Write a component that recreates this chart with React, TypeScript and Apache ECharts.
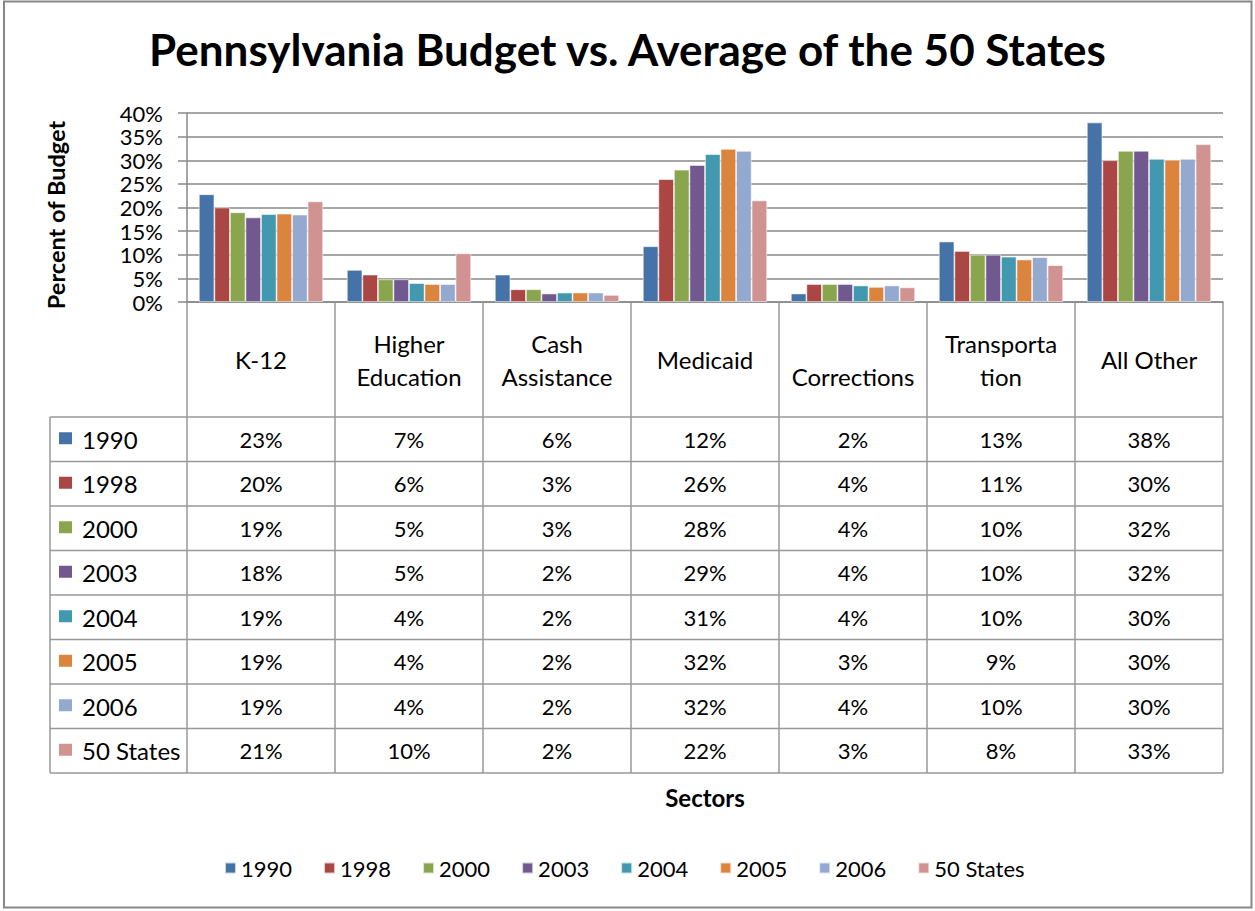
import React, { useEffect, useRef } from "react";
import * as echarts from "echarts";

const categories = ["K-12", "Higher Education", "Cash Assistance", "Medicaid", "Corrections", "Transportation", "All Other"];
const headerLabels = ["K-12", "Higher\nEducation", "Cash\nAssistance", "Medicaid", "\nCorrections", "Transporta\ntion", "All Other"];
const seriesNames = ["1990", "1998", "2000", "2003", "2004", "2005", "2006", "50 States"];
const v1990 = [22.8, 6.8, 5.8, 11.8, 1.8, 12.8, 38.0];
const v1998 = [20.0, 5.8, 2.7, 26.0, 3.8, 10.8, 30.0];
const v2000 = [19.0, 4.8, 2.7, 28.0, 3.8, 10.0, 32.0];
const v2003 = [17.9, 4.8, 1.8, 29.0, 3.8, 10.0, 32.0];
const v2004 = [18.6, 4.0, 2.0, 31.3, 3.5, 9.6, 30.3];
const v2005 = [18.7, 3.8, 2.0, 32.4, 3.2, 9.0, 30.1];
const v2006 = [18.5, 3.8, 2.0, 32.0, 3.5, 9.5, 30.3];
const v50States = [21.3, 10.3, 1.5, 21.5, 3.1, 7.8, 33.4];
const seriesValues = [v1990, v1998, v2000, v2003, v2004, v2005, v2006, v50States];
const colors = ["#4572A7", "#AA4643", "#89A54E", "#71588F", "#4198AF", "#DB843D", "#93A9CF", "#D19392"];
const yTicks = { min: 0, max: 40, interval: 5 };

const FONT = "Lato, 'Liberation Sans', sans-serif";
const GRID = { left: 187, top: 113, right: 1223, bottom: 302 };
const TABLE = { left: 50, headerBottom: 417, rowH: 44.5 };
const LINE = "#999999";

export default function App() {
  const ref = useRef<HTMLDivElement>(null);
  useEffect(() => {
    if (!ref.current) return;
    const chart = echarts.init(ref.current, null, { renderer: "svg" });
    chart.setOption({
      animation: false,
      backgroundColor: "#ffffff",
      color: colors,
      title: {
        text: "Pennsylvania Budget vs. Average of the 50 States",
        left: "center",
        top: 22,
        textStyle: { fontFamily: FONT, fontSize: 44, fontWeight: "bold", color: "#000" },
      },
      legend: {
        data: seriesNames,
        top: 852,
        left: 219,
        itemWidth: 11,
        itemHeight: 11,
        itemGap: 31,
        icon: "rect",
        textStyle: { fontFamily: FONT, fontSize: 22, color: "#000" },
      },
      grid: {
        left: GRID.left,
        top: GRID.top,
        width: GRID.right - GRID.left,
        height: GRID.bottom - GRID.top,
        containLabel: false,
      },
      xAxis: {
        type: "category",
        data: categories,
        axisLine: { show: true, lineStyle: { color: "#888", width: 1.5 } },
        axisTick: { show: false },
        axisLabel: { show: false },
      },
      yAxis: {
        type: "value",
        min: yTicks.min,
        max: yTicks.max,
        interval: yTicks.interval,
        axisLine: { show: true, lineStyle: { color: "#888", width: 1.5 } },
        axisTick: { show: true, length: 9, lineStyle: { color: "#888", width: 1.5 } },
        splitLine: { show: true, lineStyle: { color: "#888", width: 1.5 } },
        axisLabel: { formatter: "{value}%", margin: 24, fontFamily: FONT, fontSize: 22, lineHeight: 20, color: "#000" },
      },
      series: seriesNames.map((name, i) => ({
        name,
        type: "bar",
        data: seriesValues[i],
        barGap: "0%",
        barCategoryGap: "16%",
        itemStyle: { color: colors[i], borderColor: "rgba(255,255,255,0.7)", borderWidth: 0.8 },
      })),
    });

    const x0 = chart.convertToPixel({ xAxisIndex: 0 }, 0) as number;
    const x1 = chart.convertToPixel({ xAxisIndex: 0 }, 1) as number;
    const colW = x1 - x0;
    const leftEdge = x0 - colW / 2;
    const y0 = chart.convertToPixel({ yAxisIndex: 0 }, 0) as number;
    const nCols = categories.length;
    const rightEdge = leftEdge + colW * nCols;
    const nRows = seriesNames.length;
    const tableBottom = TABLE.headerBottom + TABLE.rowH * nRows;

    const g: any[] = [];
    g.push({ type: "rect", shape: { x: 4, y: 1.5, width: 1247.5, height: 906 }, style: { fill: "none", stroke: "#888", lineWidth: 2 } });
    for (let r = 0; r <= nRows; r++) {
      const y = TABLE.headerBottom + r * TABLE.rowH;
      g.push({ type: "line", shape: { x1: TABLE.left, y1: y, x2: rightEdge, y2: y }, style: { stroke: LINE, lineWidth: 1.5 } });
    }
    g.push({ type: "line", shape: { x1: TABLE.left, y1: TABLE.headerBottom, x2: TABLE.left, y2: tableBottom }, style: { stroke: LINE, lineWidth: 1.5 } });
    for (let c = 0; c <= nCols; c++) {
      const x = leftEdge + c * colW;
      g.push({ type: "line", shape: { x1: x, y1: y0, x2: x, y2: tableBottom }, style: { stroke: LINE, lineWidth: 1.5 } });
    }
    headerLabels.forEach((lab, c) => {
      g.push({
        type: "text",
        x: leftEdge + (c + 0.5) * colW,
        y: (y0 + TABLE.headerBottom) / 2,
        style: { text: lab, fill: "#000", fontFamily: FONT, fontSize: 24, align: "center", verticalAlign: "middle", lineHeight: 33 },
      });
    });
    seriesNames.forEach((name, r) => {
      const cy = TABLE.headerBottom + (r + 0.5) * TABLE.rowH;
      g.push({ type: "rect", shape: { x: 59, y: cy - 7, width: 13, height: 12 }, style: { fill: colors[r] } });
      g.push({
        type: "text",
        x: 82,
        y: cy,
        style: { text: name, fill: "#000", fontFamily: FONT, fontSize: 24, align: "left", verticalAlign: "middle" },
      });
      seriesValues[r].forEach((v, c) => {
        g.push({
          type: "text",
          x: leftEdge + (c + 0.5) * colW,
          y: cy,
          style: { text: Math.round(v) + "%", fill: "#000", fontFamily: FONT, fontSize: 22, align: "center", verticalAlign: "middle" },
        });
      });
    });
    g.push({
      type: "text",
      x: 56,
      y: 215,
      rotation: Math.PI / 2,
      style: { text: "Percent of Budget", fill: "#000", fontFamily: FONT, fontSize: 23.5, fontWeight: "bold", align: "center", verticalAlign: "middle" },
    });
    g.push({
      type: "text",
      x: (leftEdge + rightEdge) / 2,
      y: 797,
      style: { text: "Sectors", fill: "#000", fontFamily: FONT, fontSize: 24, fontWeight: "bold", align: "center", verticalAlign: "middle" },
    });
    chart.setOption({ graphic: g });

    return () => chart.dispose();
  }, []);
  return <div ref={ref} style={{ position: "absolute", left: 0, top: 0, width: 1255, height: 911 }} />;
}
